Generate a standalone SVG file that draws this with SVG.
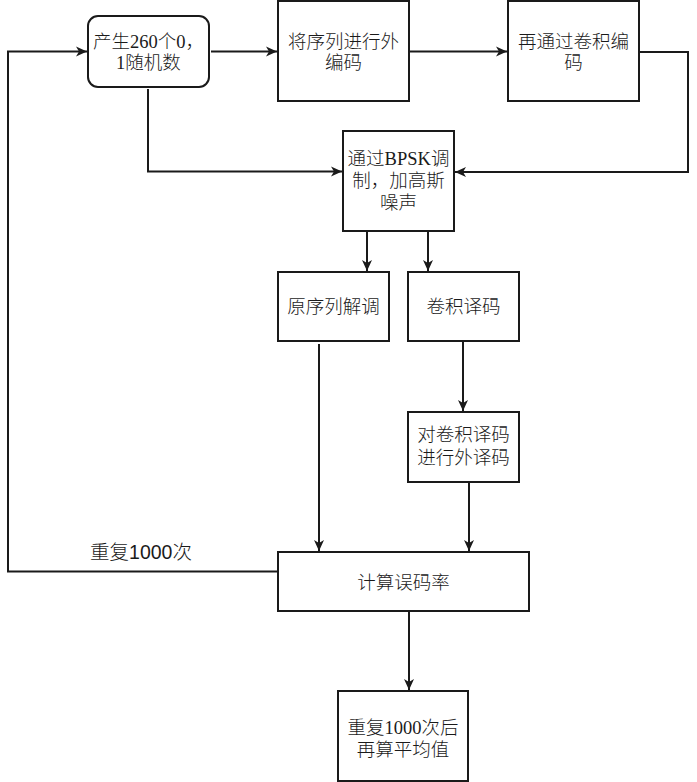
<svg xmlns="http://www.w3.org/2000/svg" width="697" height="782" viewBox="0 0 697 782">
<style>
.box{fill:#fff;stroke:#1a1a1a;stroke-width:2}
.t{font-family:"Liberation Serif","Noto Sans CJK SC",serif;font-size:18.5px;font-weight:300;fill:#1a1a1a;text-anchor:middle;dominant-baseline:central}
.s{font-family:"Liberation Sans","Noto Sans CJK SC",sans-serif;font-size:18.5px;font-weight:300;fill:#1a1a1a;text-anchor:middle;dominant-baseline:central}
.e{fill:none;stroke:#1a1a1a;stroke-width:2}
</style>
<defs>
<marker id="a" markerWidth="12" markerHeight="11" refX="11" refY="5.5" orient="auto" markerUnits="userSpaceOnUse">
<path d="M0,0.5 L11,5.5 L0,10.5 L3,5.5 Z" fill="#1a1a1a"/>
</marker>
</defs>
<rect width="697" height="782" fill="#fff"/>
<g id="connectors">
<path class="e" d="M211,51.5 L277,51.5" marker-end="url(#a)"/>
<path class="e" d="M409,51.5 L507,51.5" marker-end="url(#a)"/>
<path class="e" d="M640,52 L688,52 L688,172 L455,172" marker-end="url(#a)"/>
<path class="e" d="M148,89 L148,171.5 L342,171.5" marker-end="url(#a)"/>
<path class="e" d="M367,232 L367,271" marker-end="url(#a)"/>
<path class="e" d="M428,232 L428,271" marker-end="url(#a)"/>
<path class="e" d="M463,342 L463,411" marker-end="url(#a)"/>
<path class="e" d="M319,344 L319,551" marker-end="url(#a)"/>
<path class="e" d="M469,483 L469,551" marker-end="url(#a)"/>
<path class="e" d="M409,612 L409,690" marker-end="url(#a)"/>
<path class="e" d="M278,571.5 L8,571.5 L8,51.5 L87,51.5" marker-end="url(#a)"/>
<text class="s" x="141" y="552" style="font-size:19.5px">重复1000次</text>
</g>
<g id="n1"><rect class="box" x="88" y="16" width="121" height="71" rx="10"/><text class="t" x="148.5" y="42">产生260个0，</text><text class="t" x="148.5" y="63">1随机数</text></g>
<g id="n2"><rect class="box" x="278" y="1" width="131" height="100"/><text class="t" x="343.5" y="42">将序列进行外</text><text class="t" x="343.5" y="63">编码</text></g>
<g id="n3"><rect class="box" x="508" y="1" width="131" height="100"/><text class="t" x="573.5" y="42">再通过卷积编</text><text class="t" x="573.5" y="63">码</text></g>
<g id="n4"><rect class="box" x="343" y="131" width="111" height="100"/><text class="t" x="398.5" y="159">通过BPSK调</text><text class="t" x="398.5" y="181">制，加高斯</text><text class="t" x="398.5" y="203">噪声</text></g>
<g id="n5"><rect class="box" x="278" y="272" width="111" height="69"/><text class="t" x="333.5" y="307">原序列解调</text></g>
<g id="n6"><rect class="box" x="408" y="272" width="111" height="69"/><text class="t" x="463.5" y="307">卷积译码</text></g>
<g id="n7"><rect class="box" x="408" y="412" width="111" height="70"/><text class="t" x="463.5" y="435">对卷积译码</text><text class="t" x="463.5" y="458">进行外译码</text></g>
<g id="n8"><rect class="box" x="278" y="552" width="251" height="59"/><text class="s" x="403.5" y="582">计算误码率</text></g>
<g id="n9"><rect class="box" x="338" y="691" width="130" height="90"/><text class="t" x="403" y="728">重复1000次后</text><text class="t" x="403" y="750">再算平均值</text></g>
</svg>
